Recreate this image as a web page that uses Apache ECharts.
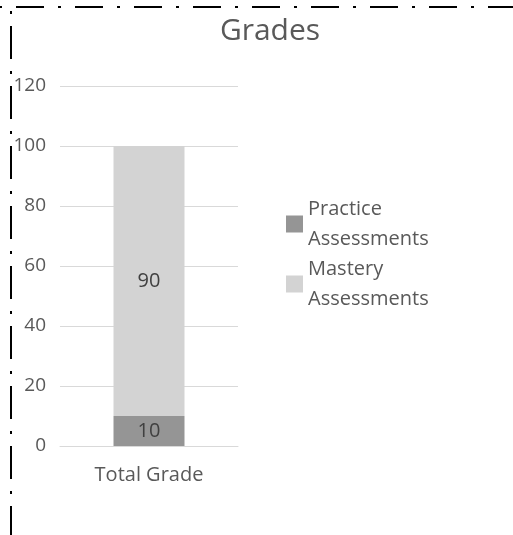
<!DOCTYPE html>
<html>
<head>
<meta charset="utf-8">
<script src="https://cdn.jsdelivr.net/npm/echarts@6/dist/echarts.min.js"></script>
<style>
  html, body { margin: 0; padding: 0; background: #fff; }
  #chart { width: 513px; height: 535px; }
</style>
</head>
<body>
<div id="chart"></div>
<script>
  // data
  const categories = ['Total Grade'];
  const practice = [10];
  const mastery = [90];
  const seriesNames = ['Practice Assessments', 'Mastery Assessments'];
  const colors = ['#959595', '#d3d3d3'];

  const myChart = echarts.init(document.getElementById('chart'));
  const fontFamily = 'Open Sans, Noto Sans, sans-serif';

  const option = {
    animation: false,
    color: colors,
    textStyle: { fontFamily: fontFamily },
    title: {
      text: 'Grades',
      left: 265,
      textAlign: 'center',
      top: 11,
      textStyle: { fontSize: 30, fontWeight: 'normal', color: '#595959', fontFamily: fontFamily }
    },
    legend: {
      orient: 'vertical',
      left: 281,
      top: 189,
      itemWidth: 17,
      itemHeight: 17,
      itemGap: 0,
      icon: 'rect',
      data: seriesNames,
      formatter: function (name) { return name.replace(' ', '\n'); },
      textStyle: { fontSize: 20, lineHeight: 30, color: '#595959', fontFamily: fontFamily }
    },
    grid: { left: 60, top: 86, width: 178, height: 360 },
    xAxis: {
      type: 'category',
      data: categories,
      axisLine: { lineStyle: { color: '#d9d9d9' } },
      axisTick: { show: false },
      axisLabel: { fontSize: 20, color: '#595959', margin: 19, fontFamily: fontFamily }
    },
    yAxis: {
      type: 'value',
      min: 0,
      max: 120,
      interval: 20,
      axisLine: { show: false },
      axisTick: { show: false },
      splitLine: { lineStyle: { color: '#d9d9d9', width: 1 } },
      axisLabel: { fontSize: 19, color: '#595959', margin: 14, fontFamily: fontFamily }
    },
    series: [
      {
        name: seriesNames[0],
        type: 'bar',
        stack: 'total',
        data: practice,
        barWidth: 71,
        label: { show: true, position: 'inside', fontSize: 20, color: '#404040', fontFamily: fontFamily }
      },
      {
        name: seriesNames[1],
        type: 'bar',
        stack: 'total',
        data: mastery,
        barWidth: 71,
        label: { show: true, position: 'inside', fontSize: 20, color: '#404040', fontFamily: fontFamily }
      }
    ],
    graphic: [
      {
        type: 'line',
        shape: { x1: -43, y1: 7, x2: 520, y2: 7 },
        style: { stroke: '#000', lineWidth: 2, lineDash: [28, 14, 3, 14] }
      },
      {
        type: 'line',
        shape: { x1: 11, y1: 11, x2: 11, y2: 540 },
        style: { stroke: '#000', lineWidth: 2, lineDash: [3, 12, 33, 12] }
      }
    ]
  };

  myChart.setOption(option);
</script>
</body>
</html>
